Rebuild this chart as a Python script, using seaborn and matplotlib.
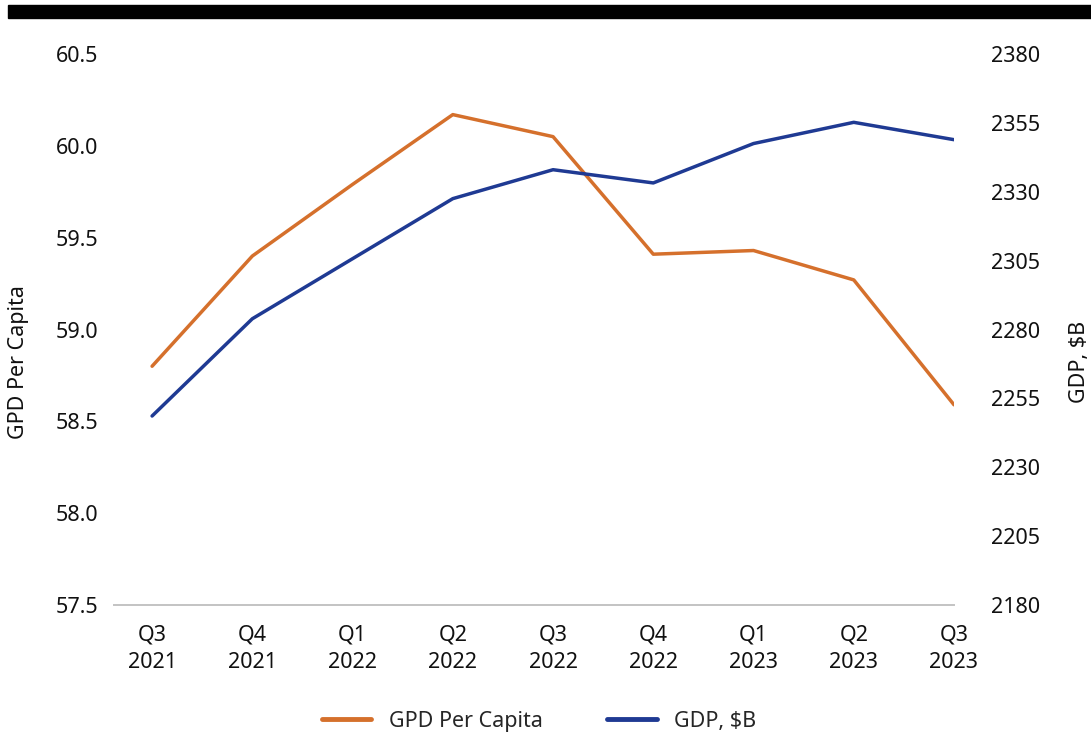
import numpy as np
import pandas as pd
import matplotlib
matplotlib.use("Agg")
import matplotlib.pyplot as plt
from matplotlib.patches import Rectangle
from matplotlib.lines import Line2D
import seaborn as sns

# ---- data ----
quarters = ["Q3\n2021", "Q4\n2021", "Q1\n2022", "Q2\n2022", "Q3\n2022",
            "Q4\n2022", "Q1\n2023", "Q2\n2023", "Q3\n2023"]
gdp_per_capita = [58.80, 59.40, 59.79, 60.17, 60.05, 59.41, 59.43, 59.27, 58.59]
gdp_billions = [2248.6, 2283.9, 2305.7, 2327.5, 2338.0, 2333.2, 2347.5, 2355.2, 2348.9]
left_ticks = [57.5, 58.0, 58.5, 59.0, 59.5, 60.0, 60.5]
right_ticks = [2180, 2205, 2230, 2255, 2280, 2305, 2330, 2355, 2380]
series_names = ["GPD Per Capita", "GDP, $B"]

ORANGE = "#D5702C"
BLUE = "#1F3A93"
GRID = "#C4C4C4"
FS = 15.5

sns.set_style("white")
plt.rcParams["font.family"] = ["Noto Sans", "DejaVu Sans"]

df = pd.DataFrame({"pos": np.arange(len(quarters)),
                   "pc": gdp_per_capita,
                   "gdp": gdp_billions})

W, H = 1091, 734
fig = plt.figure(figsize=(W / 100, H / 100), dpi=100)
ax = fig.add_axes([114 / W, 1 - 605 / H, (954 - 114) / W, (605 - 54) / H])
ax2 = ax.twinx()

sns.lineplot(data=df, x="pos", y="pc", ax=ax, color=ORANGE, linewidth=2.5)
sns.lineplot(data=df, x="pos", y="gdp", ax=ax2, color=BLUE, linewidth=2.5)

ax.set_xlim(-0.38, 8)
ax.set_ylim(left_ticks[0], left_ticks[-1])
ax2.set_ylim(right_ticks[0], right_ticks[-1])
ax.set_yticks(left_ticks)
ax.set_yticklabels([f"{v:.1f}" for v in left_ticks])
ax2.set_yticks(right_ticks)
ax2.set_yticklabels([str(v) for v in right_ticks])
ax.set_xticks(df["pos"])
ax.set_xticklabels(quarters, linespacing=1.4)

for a in (ax, ax2):
    for s in ("top", "left", "right"):
        a.spines[s].set_visible(False)
    a.spines["bottom"].set_color(GRID)
    a.spines["bottom"].set_linewidth(1.3)
    a.set_xlabel("")
    a.set_ylabel("")
    a.grid(False)

ax.tick_params(axis="x", length=6, width=1.3, color=GRID, pad=8,
               labelsize=FS, labelcolor="#111111")
ax.tick_params(axis="y", length=0, pad=11, labelsize=FS, labelcolor="#111111")
ax2.tick_params(axis="y", length=0, pad=27, labelsize=FS, labelcolor="#111111")

fig.text(19 / W, 1 - 362 / H, series_names[0], rotation=90, ha="center",
         va="center", fontsize=FS, color="#111111")
fig.text(1079 / W, 1 - 362 / H, series_names[1], rotation=90, ha="center",
         va="center", fontsize=FS, color="#111111")

handles = [Line2D([0], [0], color=ORANGE, lw=3.5, solid_capstyle="round"),
           Line2D([0], [0], color=BLUE, lw=3.5, solid_capstyle="round")]
fig.legend(handles, series_names, loc="center", bbox_to_anchor=(539 / W, 1 - 721 / H),
           ncol=2, frameon=False, fontsize=FS, handlelength=2.3,
           handletextpad=0.8, columnspacing=3.0)

fig.patches.append(Rectangle((8 / W, 1 - 18 / H), 1.0, 13 / H,
                             transform=fig.transFigure, color="black",
                             zorder=10))

fig.savefig("out.png", dpi=100)
